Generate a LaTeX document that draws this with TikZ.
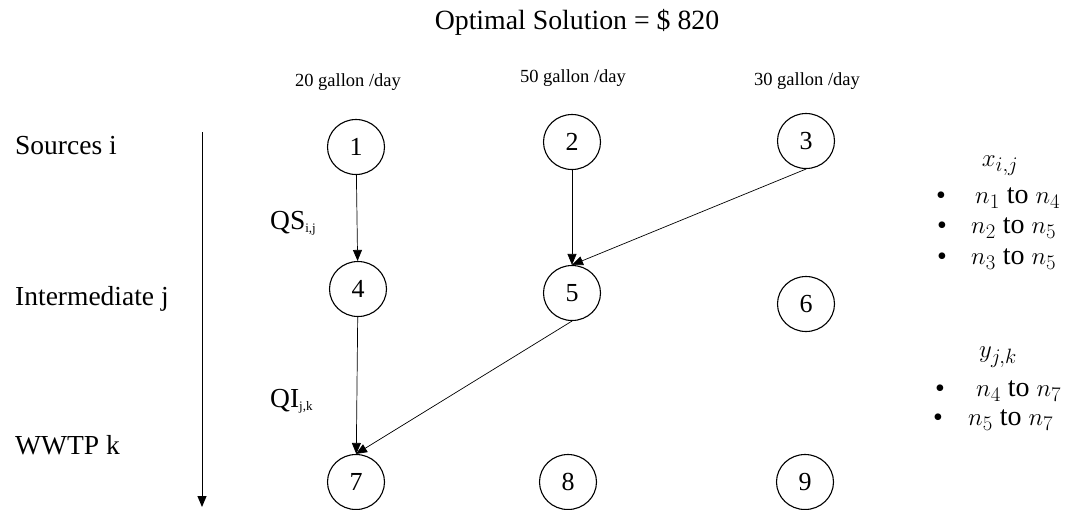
\documentclass[tikz,border=0pt]{standalone}
\usepackage{fontspec}
\setmainfont{Liberation Serif}
\usetikzlibrary{arrows.meta,shapes.geometric}
\begin{document}
\begin{tikzpicture}[x=1pt,y=-1pt,
  nd/.style={ellipse,draw,line width=1.1pt,minimum width=57pt,minimum height=55pt,inner sep=0pt,font=\fontsize{26}{26}\selectfont},
  lbl/.style={anchor=west,inner sep=0pt,font=\fontsize{27.5}{27.5}\selectfont},
  gal/.style={inner sep=0pt,font=\fontsize{18.5}{18.5}\selectfont},
  mth/.style={inner sep=0pt,font=\fontsize{28}{28}\selectfont},
  bul/.style={inner sep=0pt,font=\fontsize{28}{28}\selectfont},
  conn/.style={line width=0.7pt,-{Triangle[length=11pt,width=9pt]}}]
\useasboundingbox (0,0) rectangle (1071,509);
\node[inner sep=0pt,font=\fontsize{27.8}{27.8}\selectfont] (title) at (577,22) {Optimal Solution = \$ 820};
\node[gal] (g1) at (348,82) {20 gallon /day};
\node[gal] (g2) at (573,78) {50 gallon /day};
\node[gal] (g3) at (807,81) {30 gallon /day};
\node[lbl] (src) at (15,146) {Sources i};
\node[lbl] (int) at (15,299) {Intermediate j};
\node[lbl] (wwtp) at (15,445) {WWTP k};
\coordinate (atop) at (202,132);
\coordinate (abot) at (202,507);
\draw[line width=1pt,-{Triangle[length=11pt,width=9pt]}] (atop) -- (abot);
\node[nd] (n1) at (356,147) {1};
\node[nd] (n2) at (572,142) {2};
\node[nd] (n3) at (806,141) {3};
\node[nd] (n4) at (358,289) {4};
\node[nd] (n5) at (572,293) {5};
\node[nd] (n6) at (806,304) {6};
\node[nd] (n7) at (356,482) {7};
\node[nd] (n8) at (568,482) {8};
\node[nd] (n9) at (805,482) {9};
\draw[conn] (n1) -- (n4);
\draw[conn] (n2) -- (n5);
\draw[conn] (n3.south) -- (n5.north);
\draw[conn] (n4) -- (n7);
\draw[conn] (n5.south) -- (n7.north);
\node[lbl] (qs) at (270,223) {QS\raisebox{-3pt}{\fontsize{13}{13}\selectfont i,j}};
\node[lbl] (qi) at (270,401) {QI\raisebox{-3pt}{\fontsize{13}{13}\selectfont j,k}};
\node[mth] (xij) at (1000,166) {$x_{i,j}$};
\node[bul] (b1) at (941,198) {•};
\node[mth,anchor=west] (t1) at (975,198) {$n_1$ to $n_4$};
\node[bul] (b2) at (942,228) {•};
\node[mth,anchor=west] (t2) at (971,228) {$n_2$ to $n_5$};
\node[bul] (b3) at (942,259) {•};
\node[mth,anchor=west] (t3) at (971,259) {$n_3$ to $n_5$};
\node[mth] (yjk) at (998,357) {$y_{j,k}$};
\node[bul] (b4) at (940,391) {•};
\node[mth,anchor=west] (t4) at (976,391) {$n_4$ to $n_7$};
\node[bul] (b5) at (938,420) {•};
\node[mth,anchor=west] (t5) at (968,420) {$n_5$ to $n_7$};
\end{tikzpicture}
\end{document}
